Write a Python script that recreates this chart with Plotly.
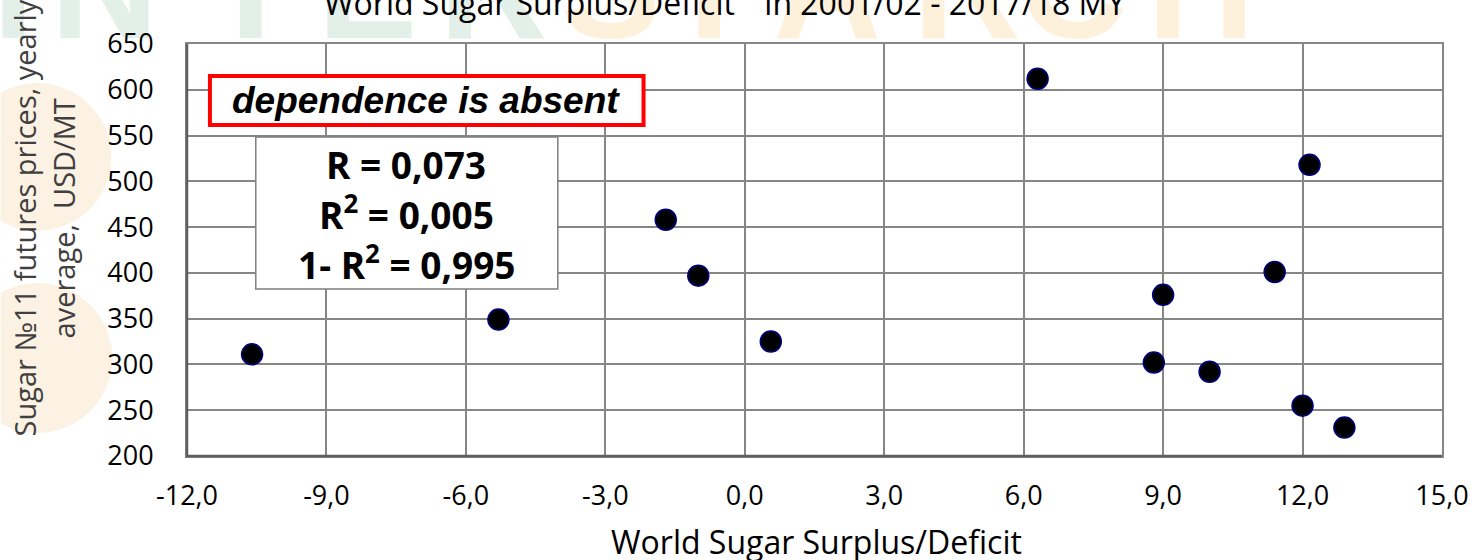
import base64
import plotly.graph_objects as go

# ---------------------------------------------------------------------------
# Data
# ---------------------------------------------------------------------------
surplus = [-10.6, -5.3, -1.7, -1.0, 0.56, 6.3, 12.15, 11.4, 9.0, 8.8, 10.0, 12.0, 12.9]
price   = [311, 349, 458, 397, 325, 612, 518, 401, 376, 302, 292, 255, 231]

x_tickvals = [-12, -9, -6, -3, 0, 3, 6, 9, 12, 15]
x_ticktext = ["-12,0", "-9,0", "-6,0", "-3,0", "0,0", "3,0", "6,0", "9,0", "12,0", "15,0"]
y_tickvals = [200, 250, 300, 350, 400, 450, 500, 550, 600, 650]

stat_lines = ["R = 0,073", "R<sup>2</sup> = 0,005", "1- R<sup>2</sup> = 0,995"]
note_text  = "<b><i>dependence is absent</i></b>"
title_text = 'World Sugar Surplus/Deficit"  in 2001/02 - 2017/18 MY'
x_title    = "World Sugar Surplus/Deficit"
y_title    = ["Sugar №11 futures prices, yearly", "average,\u00a0\u00a0USD/MT"]

# ---------------------------------------------------------------------------
# Geometry (pixels of the 1481x560 page)
# ---------------------------------------------------------------------------
W, H = 1481, 560
L, R, T, B = 187, 35, 44, 104
PW, PH = W - L - R, H - T - B


def px(x):
    return (x - L) / PW


def py(y):
    return (H - B - y) / PH


def label(fig, x, y, text, size, family="Open Sans", color="black", **kw):
    fig.add_annotation(x=px(x), y=py(y), xref="paper", yref="paper", text=text,
                       xanchor="center", yanchor="middle", showarrow=False,
                       font=dict(family=family, size=size, color=color), **kw)


# faint company watermark behind the figure
_letters = [("I", -8, "#e3efe9"), ("N", 50, "#e3efe9"), ("T", 205, "#e3efe9"),
            ("E", 318, "#e3efe9"), ("R", 440, "#e3efe9"), ("S", 562, "#fdf1dc"),
            ("T", 665, "#fdf1dc"), ("A", 775, "#fdf1dc"), ("R", 915, "#fdf1dc"),
            ("C", 1022, "#fdf1dc"), ("H", 1150, "#fdf1dc")]
_svg = [f'<svg xmlns="http://www.w3.org/2000/svg" width="{W}" height="{H}">',
        '<circle cx="37" cy="157" r="74" fill="#fcf2e3"/>',
        '<circle cx="37" cy="358" r="75" fill="#fcf2e3"/>']
for ch, lx, col in _letters:
    _svg.append(f'<text x="{lx}" y="38" font-family="Liberation Sans" font-weight="bold" '
                f'font-size="150" fill="{col}">{ch}</text>')
_svg.append("</svg>")
_wm_src = "data:image/svg+xml;base64," + base64.b64encode("".join(_svg).encode()).decode()

fig = go.Figure()
fig.add_trace(go.Scatter(
    x=surplus, y=price,
    mode="markers",
    marker=dict(size=21, color="black", line=dict(color="#000080", width=1.5)),
    showlegend=False,
))

fig.add_layout_image(dict(
    source=_wm_src, xref="paper", yref="paper",
    x=px(0), y=py(0), sizex=W / PW, sizey=H / PH,
    xanchor="left", yanchor="top", sizing="stretch", layer="below",
))

# white plot area over the watermark, darker left/bottom frame, then the boxes
fig.add_shape(type="rect", xref="paper", yref="paper", x0=0, x1=1, y0=0, y1=1,
              fillcolor="white", line=dict(width=0), layer="below")
fig.add_shape(type="path", xref="paper", yref="paper", path="M 0 1 L 0 0 L 1 0",
              line=dict(color="#5f5f5f", width=2.5))
fig.add_shape(type="rect", xref="paper", yref="paper",
              x0=px(210), x1=px(645), y0=py(125), y1=py(76),
              fillcolor="white", line=dict(color="#ff0000", width=4))
fig.add_shape(type="rect", xref="paper", yref="paper",
              x0=px(256), x1=px(559), y0=py(289), y1=py(137),
              fillcolor="white", line=dict(color="#7f7f7f", width=1.5))

label(fig, 427, 100, note_text, 37, family="Liberation Sans")
for txt, cy in zip(stat_lines, [164, 212, 262]):
    label(fig, 407, cy, f"<b>{txt}</b>", 37)

label(fig, 726, 3, title_text, 32)
label(fig, 819, 541, x_title, 32)
for txt, cx in zip(y_title, [23, 63]):
    label(fig, cx, 218, txt, 29, color="#404040", textangle=-90)

fig.update_layout(
    width=W, height=H,
    margin=dict(l=L, r=R, t=T, b=B),
    paper_bgcolor="white",
    plot_bgcolor="rgba(0,0,0,0)",
    font=dict(family="Open Sans", size=27, color="black"),
    xaxis=dict(
        range=[-12, 15], tickvals=x_tickvals, ticktext=x_ticktext,
        showgrid=True, gridcolor="#868686", gridwidth=1.5,
        zeroline=False, showline=True, linecolor="#868686", linewidth=2, mirror=True,
        ticks="", ticklabelstandoff=15,
    ),
    yaxis=dict(
        range=[200, 650], tickvals=y_tickvals,
        showgrid=True, gridcolor="#868686", gridwidth=1.5,
        zeroline=False, showline=True, linecolor="#868686", linewidth=2, mirror=True,
        ticks="", ticklabelstandoff=26,
    ),
)

fig.write_html("out.html", config={"displayModeBar": False},
               post_script="document.body.style.margin = '0';")
